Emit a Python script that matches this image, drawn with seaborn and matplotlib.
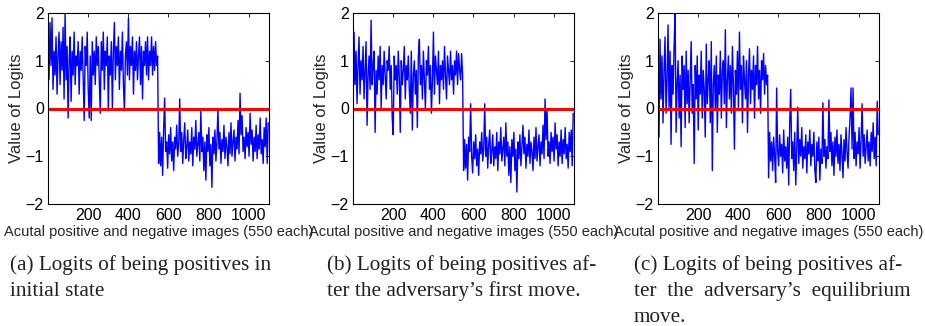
import numpy as np
import pandas as pd
import matplotlib
matplotlib.use('Agg')
import matplotlib.pyplot as plt
import seaborn as sns

# x-positions of sampled images (every 5th of 1100: 550 positives, then 550 negatives)
image_index = np.arange(1, 1100, 5)

# (a) initial state
logits_a_pos = [1.3, 0.6, 1.8, 0.9, 1.9, 0.4, 1.2, 0.7, 1.5, 0.3,
                1.1, 1.6, 0.5, 1.4, 0.8, 1.7, 0.2, 2.0, 0.6, 1.3,
                -0.2, 1.0, 1.5, 0.15, 1.2, 0.7, 1.6, 0.5, 1.1, 0.9,
                1.4, 0.3, 1.2, 0.8, 1.5, 0.6, -0.25, 1.3, 0.9, 1.6,
                0.4, -0.2, 1.1, -0.25, 1.4, 0.7, 1.2, 0.5, 1.5, 0.9,
                1.3, 0.6, -0.1, 1.4, 0.8, 1.6, 0.4, 1.2, 0.9, 1.5,
                -0.05, 1.1, 0.7, 1.4, 0.0, 1.2, 1.8, 0.6, 1.3, 0.9,
                1.5, 0.4, 1.2, 0.8, 1.6, 0.5, -0.05, 1.1, 1.4, 0.7,
                1.9, 0.6, 1.3, 0.9, 1.5, 0.3, 1.2, 0.8, 1.4, 0.6,
                1.1, 1.5, 0.5, 1.3, 0.2, 1.2, 0.9, 1.4, 0.7, 1.5,
                0.6, 1.2, 0.9, 1.5, 0.7, 1.3, 0.8, 1.4, 0.9, 1.1]
logits_a_neg = [-1.15, -0.5, -1.2, -0.6, -1.4, -0.45, 0.22, -0.9, -0.7, -1.25,
                -0.55, -0.95, -0.4, -1.1, -0.7, -1.3, -0.6, -0.85, -0.35, -1.0,
                -0.75, 0.2, -0.9, -0.5, -1.15, -0.65, -0.3, -1.05, -0.8, -0.45,
                -1.1, -0.7, -0.95, -0.4, -1.2, -0.6, -0.85, -0.25, -1.0, -0.75,
                -0.5, -1.1, -0.05, -0.9, -0.6, -1.3, -0.7, -1.5, -0.55, -0.9,
                -0.4, -1.2, -0.75, -1.65, -0.6, -0.95, -0.45, -1.1, -0.7, 0.0,
                -0.85, -0.5, -1.15, -0.65, -0.9, -0.35, -1.05, -0.6, -0.8, -1.2,
                -0.5, -0.95, -0.3, -1.0, -0.7, -0.45, -1.1, -0.6, -0.85, -0.25,
                -0.95, 0.32, -0.55, -0.15, -0.9, -0.6, -1.05, -0.4, -0.8, -0.5,
                -1.0, -0.1, -0.75, -0.45, -1.1, -0.6, -0.9, -0.35, -1.05, -0.55,
                -0.85, -0.2, -0.95, -0.65, -1.15, -0.4, -0.8, -0.2, -1.15, -0.3]

# (b) after the adversary's first move
logits_b_pos = [-0.3, 1.6, 0.5, 1.2, 0.1, 0.9, 1.5, 0.3, 1.0, 0.6,
                1.3, 0.2, 0.8, 1.4, -0.35, 0.7, 1.1, 0.4, 1.85, 0.5,
                0.9, 1.2, -0.5, 0.8, 0.3, 1.1, 0.6, 1.3, 0.0, 0.9,
                0.5, 1.2, 0.7, 0.2, 1.0, 0.8, 1.3, 0.4, 0.9, -0.2,
                -0.55, 1.1, 0.6, 0.9, 0.3, 1.2, 0.7, -0.5, 1.0, 0.5,
                0.8, 1.3, 0.2, 0.9, 0.6, 1.1, 0.4, -0.1, 1.2, -0.45,
                0.7, 1.0, 0.3, 0.8, -0.4, 1.1, 1.45, 0.5, 0.9, 0.2,
                1.2, 0.6, 0.0, 1.0, 0.7, 1.3, 0.4, 0.9, -0.1, 0.6,
                1.6, 0.3, 1.1, 0.8, 0.5, 1.2, 0.1, 0.9, 0.6, 1.0,
                0.4, 1.3, 0.7, 0.2, 1.1, 0.8, 0.5, 1.2, 0.6, 0.9,
                0.3, 1.0, 0.7, 1.2, 0.5, 1.15, 0.8, 0.6, 1.15, 0.7]
logits_b_neg = [-1.3, -0.65, -1.25, -0.75, -1.5, -0.6, -0.9, 0.1, -1.0, -1.35,
                -0.7, -1.05, -0.55, -1.2, -0.85, -1.4, -0.7, -0.95, -0.5, -1.1,
                -0.85, 0.1, -1.0, -0.6, -1.25, -0.75, -0.45, -1.15, -0.9, -0.55,
                -1.2, -0.8, -1.05, -0.5, -1.3, -0.7, -0.95, -0.4, -1.1, -0.85,
                -0.6, -1.2, -0.3, -1.0, -0.7, -1.4, -0.8, -1.55, -0.65, -1.0,
                -0.5, -1.3, -0.85, -1.75, -0.7, -1.05, -0.55, -1.2, -0.8, -0.35,
                -0.95, -0.6, -1.25, -0.75, -1.0, -0.45, -1.15, -0.7, -0.9, -1.3,
                -0.6, -1.05, -0.4, -1.1, -0.8, -0.55, -1.2, -0.7, -0.95, -0.35,
                -1.05, 0.2, -0.65, 0.0, -1.0, -0.7, -1.15, -0.5, -0.9, -0.6,
                -1.1, -0.3, -0.85, -0.55, -1.2, -0.7, -1.0, -0.45, -1.15, -0.65,
                -0.95, -0.4, -1.05, -0.75, -1.25, -0.5, -0.9, -0.45, -1.2, -0.1]

# (c) after the adversary's equilibrium move
logits_c_pos = [0.7, -0.6, 1.45, 0.2, 1.1, -0.3, 0.8, 1.5, -0.1, 0.6,
                1.75, 0.0, 1.2, -0.75, 0.9, 0.3, 1.3, 2.0, -0.5, 0.5,
                1.0, -0.2, 0.7, -0.8, 1.1, 0.4, 0.9, -0.4, 1.2, 0.1,
                0.8, -0.3, 0.6, 1.4, -0.1, 0.5, -1.15, 0.9, 0.2, 1.1,
                -0.45, 0.7, 0.3, 1.2, -0.2, 0.8, 0.4, -0.6, 1.35, 0.1,
                0.6, 1.0, -0.3, 1.4, -1.3, 0.5, 0.9, 0.0, 1.1, -0.5,
                0.7, 0.3, 1.2, -0.2, 0.8, 1.0, 0.1, 1.65, -0.4, 0.6,
                1.1, 0.2, 0.9, -0.1, 1.3, 0.5, -0.85, 0.8, 0.3, 1.2,
                0.0, 1.6, 0.4, 0.9, -0.3, 1.1, 0.6, 0.2, 1.0, -0.5,
                0.7, 1.25, 0.1, 0.8, 0.4, 1.1, -0.2, 0.9, 0.5, 1.3,
                0.2, 0.8, -0.1, 1.0, 0.6, 1.15, 0.3, 0.9, 0.5, 0.7]
logits_c_neg = [-1.45, -0.5, -1.1, -0.7, -1.3, -0.6, -1.0, -1.55, 0.43, -0.9,
                -1.2, -0.55, -1.0, -0.75, -1.35, -0.45, -1.1, -0.8, -1.25, -0.6,
                -1.6, -0.3, 0.4, -1.05, -0.7, -1.3, -0.5, -1.6, -0.85, 0.03,
                -1.15, -0.65, -1.0, -0.4, -1.25, -0.8, -1.05, -0.55, -1.35, -0.7,
                -0.95, -0.45, -1.2, -0.75, -1.0, -0.5, -1.3, -1.55, -0.7, -1.1,
                -0.6, -1.5, -0.85, -1.15, 0.12, -1.0, -0.65, -1.25, -0.8, -1.05,
                0.18, -0.9, -0.5, -1.2, -0.7, -1.4, -0.6, -1.0, -0.45, -1.15,
                -0.75, -1.3, -0.55, -0.95, -1.45, -0.65, -1.1, -0.4, -0.9, -1.25,
                -0.6, -0.2, 0.43, -0.85, 0.43, -1.05, -0.5, -1.2, -0.7, -0.95,
                -0.4, -1.25, -0.65, 0.1, -1.0, -0.55, -1.15, -0.8, -0.45, -1.1,
                -0.7, -1.2, -0.5, -0.9, -0.3, -1.05, -0.6, -1.2, 0.15, -0.55]

captions = [
    ["(a) Logits of being positives in", "initial state"],
    ["(b) Logits of being positives af-", "ter the adversary\u2019s first move."],
    ["(c) Logits of being positives af-", "ter  the  adversary\u2019s  equilibrium", "move."],
]
panels = [(logits_a_pos, logits_a_neg), (logits_b_pos, logits_b_neg), (logits_c_pos, logits_c_neg)]

sns.set_theme(style='white')
plt.rcParams['font.family'] = ['Liberation Sans', 'DejaVu Sans']
plt.rcParams['axes.edgecolor'] = 'black'
plt.rcParams['axes.linewidth'] = 0.8

fig = plt.figure(figsize=(9.25, 3.26), dpi=100)
lefts = [48, 353, 658]
cap_x = [10, 327, 634]

for k, (pos, neg) in enumerate(panels):
    ax = fig.add_axes([lefts[k] / 925, (326 - 204) / 326, 221 / 925, 191 / 326])
    df = pd.DataFrame({'image': image_index, 'logit': pos + neg})
    sns.lineplot(data=df, x='image', y='logit', ax=ax, color='#0000ff',
                 linewidth=1.0, estimator=None, sort=False)
    ax.axhline(0, color='#ff0000', linewidth=2.2)
    ax.set_xlim(1, 1100)
    ax.set_ylim(-2, 2)
    ax.set_xticks([200, 400, 600, 800, 1000])
    ax.set_yticks([-2, -1, 0, 1, 2])
    ax.tick_params(direction='in', length=3, width=0.6, top=True, right=True,
                   labelsize=11.5, pad=3, colors='black')
    ax.set_xlabel('Acutal positive and negative images (550 each)', fontsize=10.5, labelpad=1)
    ax.set_ylabel('Value of Logits', fontsize=12, labelpad=1)
    for s in ax.spines.values():
        s.set_visible(True)
        s.set_color('black')

    for j, line in enumerate(captions[k]):
        fig.text(cap_x[k] / 925, 1 - (270 + 26 * j) / 326, line,
                 family=['Liberation Serif', 'DejaVu Serif'], fontsize=15.3,
                 ha='left', va='baseline', color='#222222')

fig.savefig('out.png', dpi=100)
